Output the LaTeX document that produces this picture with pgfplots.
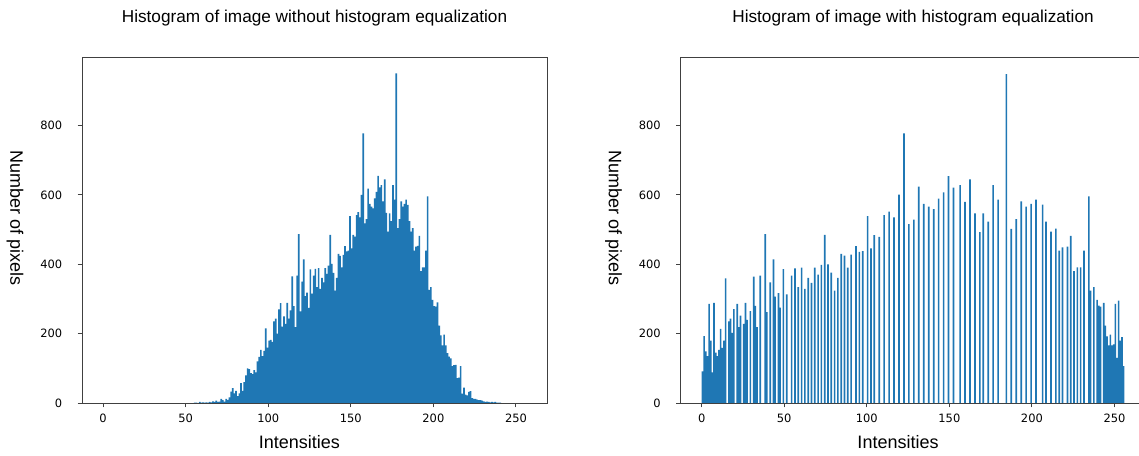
\documentclass[border=0pt]{standalone}
\usepackage{pgfplots}
\pgfplotsset{compat=1.18}
\usepackage{fontspec}
\setmainfont{Liberation Sans}
\newfontfamily\tickfont{DejaVu Sans}
\definecolor{mplblue}{HTML}{1F77B4}
\definecolor{spine}{gray}{0.25}
\pgfplotsset{
  hstyle/.style={
    scale only axis, width=348.75pt, height=259.5pt,
    xmin=-12.8, xmax=268.8, ymin=0, ymax=997.5,
    axis on top,
    axis line style={spine, line width=0.75pt},
    xtick={0,50,...,250}, ytick={0,200,...,800},
    tick align=outside, tick pos=left,
    major tick length=3.3pt,
    every tick/.style={spine, line width=0.75pt},
    tick label style={font=\tickfont\fontsize{8.6pt}{10pt}\selectfont},
    /pgf/number format/assume math mode=true,
    yticklabel style={xshift=-8pt},
    xticklabel style={yshift=-1.5pt},
    every axis title/.style={at={(axis description cs:0.5,1.1127)}, anchor=center, font=\fontsize{12.9pt}{15pt}\selectfont},
    every axis x label/.style={at={(axis description cs:0.4677,-0.1127)}, anchor=center, font=\fontsize{13.5pt}{16pt}\selectfont},
    every axis y label/.style={at={(axis description cs:-0.1441,0.5347)}, rotate=-90, anchor=center, font=\fontsize{13.5pt}{16pt}\selectfont},
    xlabel={Intensities}, ylabel={Number of pixels},
  }
}
\begin{document}
\begin{tikzpicture}
\useasboundingbox (0,0) rectangle (854.25pt,341.25pt);
\clip (0,0) rectangle (854.25pt,341.25pt);
\begin{axis}[hstyle, at={(61.5pt,39pt)}, anchor=south west,
  title={Histogram of image without histogram equalization}]
\addplot[const plot mark left, fill=mplblue, draw=none] coordinates {
(54,0)(55,1)(56,1)(57,0)(58,3)(59,1)(60,2)(61,1)(62,2)(63,1)(64,3)(65,2)(66,5)(67,3)(68,7)(69,3)(70,4)(71,12)(72,8)(73,4)(74,12)(75,9)(76,16)(77,33)(78,43)(79,28)(80,35)(81,20)(82,28)(83,57)(84,35)(85,60)(86,80)(87,100)(88,98)(89,86)(90,83)(91,95)(92,88)(93,120)(94,133)(95,153)(96,135)(97,150)(98,215)(99,160)(100,180)(101,182)(102,176)(103,235)(104,243)(105,200)(106,270)(107,288)(108,220)(109,250)(110,228)(111,289)(112,243)(113,267)(114,365)(115,279)(116,219)(117,367)(118,487)(119,264)(120,350)(121,414)(122,308)(123,318)(124,274)(125,385)(126,315)(127,367)(128,387)(129,334)(130,389)(131,329)(132,361)(133,348)(134,389)(135,372)(136,396)(137,485)(138,401)(139,375)(140,324)(141,361)(142,430)(143,424)(144,391)(145,427)(146,452)(147,437)(148,439)(149,539)(150,446)(151,485)(152,480)(153,542)(154,550)(155,535)(156,600)(157,777)(158,518)(159,530)(160,618)(161,574)(162,566)(163,561)(164,590)(165,609)(166,655)(167,622)(168,628)(169,581)(170,645)(171,548)(172,494)(173,547)(174,524)(175,628)(176,586)(177,950)(178,504)(179,530)(180,581)(181,566)(182,574)(183,586)(184,571)(185,524)(186,494)(187,504)(188,439)(189,451)(190,453)(191,482)(192,380)(193,391)(194,391)(195,439)(196,596)(197,326)(198,334)(199,297)(200,279)(201,278)(202,290)(203,223)(204,195)(205,166)(206,197)(207,166)(208,144)(209,134)(210,129)(211,106)(212,109)(213,110)(214,72)(215,73)(216,106)(217,27)(218,44)(219,24)(220,22)(221,32)(222,34)(223,14)(224,12)(225,12)(226,10)(227,8)(228,8)(229,7)(230,5)(231,3)(232,4)(233,3)(234,2)(235,3)(236,2)(237,3)(238,1)(239,1)(240,1)(241,0)
} \closedcycle;
\end{axis}
\begin{axis}[hstyle, at={(510.4pt,39pt)}, anchor=south west,
  title={Histogram of image with histogram equalization}]
\addplot[const plot mark left, fill=mplblue, draw=none] coordinates {
(0,91)(1,193)(2,149)(3,135)(4,286)(5,180)(6,88)(7,289)(8,145)(9,135)(10,153)(11,214)(12,159)(13,180)(14,359)(15,0)(16,235)(17,243)(18,202)(19,271)(20,0)(21,286)(22,219)(23,252)(24,0)(25,228)(26,289)(27,240)(28,0)(29,265)(30,0)(31,364)(32,280)(33,219)(34,0)(35,367)(36,0)(37,0)(38,487)(39,262)(40,0)(41,348)(42,0)(43,414)(44,307)(45,0)(46,317)(47,275)(48,0)(49,386)(50,0)(51,313)(52,0)(53,0)(54,367)(55,0)(56,388)(57,0)(58,334)(59,0)(60,390)(61,0)(62,329)(63,0)(64,361)(65,0)(66,346)(67,0)(68,390)(69,0)(70,370)(71,0)(72,398)(73,0)(74,485)(75,0)(76,400)(77,0)(78,376)(79,0)(80,324)(81,0)(82,361)(83,0)(84,430)(85,0)(86,425)(87,0)(88,390)(89,0)(90,428)(91,0)(92,0)(93,452)(94,0)(95,436)(96,0)(97,438)(98,0)(99,0)(100,539)(101,0)(102,446)(103,0)(104,484)(105,0)(106,0)(107,479)(108,0)(109,0)(110,542)(111,0)(112,0)(113,552)(114,0)(115,0)(116,535)(117,0)(118,0)(119,601)(120,0)(121,0)(122,777)(123,0)(124,0)(125,516)(126,0)(127,0)(128,529)(129,0)(130,0)(131,624)(132,0)(133,0)(134,574)(135,0)(136,0)(137,566)(138,0)(139,0)(140,559)(141,0)(142,0)(143,589)(144,0)(145,0)(146,607)(147,0)(148,0)(149,654)(150,0)(151,0)(152,621)(153,0)(154,0)(155,0)(156,628)(157,0)(158,0)(159,580)(160,0)(161,0)(162,645)(163,0)(164,0)(165,547)(166,0)(167,0)(168,493)(169,0)(170,547)(171,0)(172,0)(173,523)(174,0)(175,0)(176,628)(177,0)(178,0)(179,586)(180,0)(181,0)(182,0)(183,0)(184,948)(185,0)(186,0)(187,502)(188,0)(189,0)(190,530)(191,0)(192,0)(193,581)(194,0)(195,0)(196,566)(197,0)(198,0)(199,574)(200,0)(201,0)(202,586)(203,0)(204,0)(205,0)(206,572)(207,0)(208,523)(209,0)(210,0)(211,494)(212,0)(213,0)(214,503)(215,0)(216,439)(217,0)(218,449)(219,0)(220,0)(221,451)(222,0)(223,482)(224,0)(225,380)(226,0)(227,391)(228,0)(229,391)(230,0)(231,439)(232,0)(233,0)(234,596)(235,324)(236,0)(237,334)(238,0)(239,297)(240,281)(241,278)(242,0)(243,289)(244,223)(245,192)(246,166)(247,197)(248,166)(249,169)(250,286)(251,130)(252,295)(253,180)(254,190)(255,106)(256,0)
} \closedcycle;
\end{axis}
\end{tikzpicture}
\end{document}
